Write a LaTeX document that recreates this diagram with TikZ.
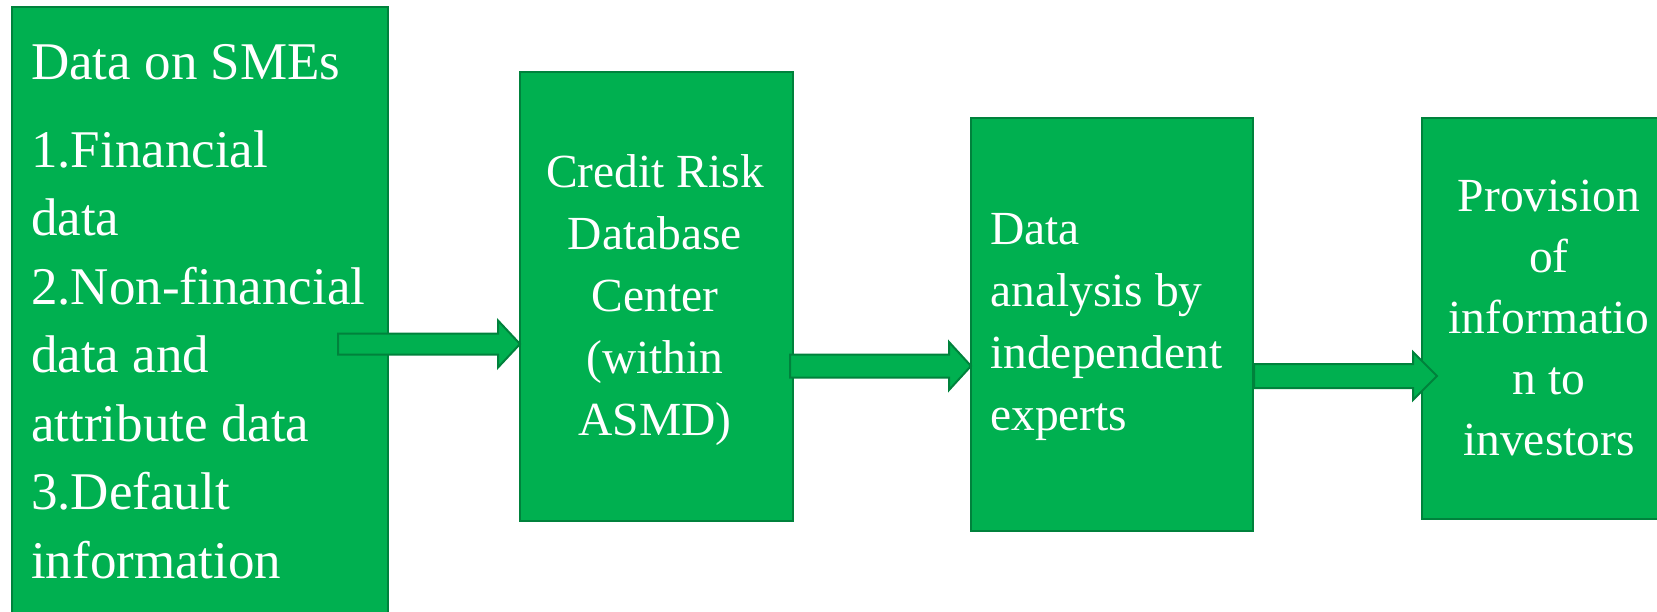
\documentclass[tikz,border=0pt]{standalone}
\usepackage{fontspec}
\setmainfont{Liberation Serif}
\usetikzlibrary{calc}
\definecolor{boxgreen}{RGB}{0,176,80}
\definecolor{edgegreen}{RGB}{0,130,60}
\tikzset{
  box/.style={draw=edgegreen, fill=boxgreen, line width=2pt, inner sep=0pt, anchor=north west},
  boxtext/.style={text=white, inner sep=0pt, font=\fontsize{47.5}{62}\selectfont},
  blockarrow/.style={draw=edgegreen, fill=boxgreen, line width=2pt, line join=miter}
}
\newcommand{\blockarr}[5]{% start, end, half shaft, half head, head length
  \draw[blockarrow] ($(#1)+(0,-#3)$) -- ($(#2)+(-#5,-#3)$) -- ($(#2)+(-#5,-#4)$) -- (#2)
    -- ($(#2)+(-#5,#4)$) -- ($(#2)+(-#5,#3)$) -- ($(#1)+(0,#3)$) -- cycle;}
\begin{document}
\begin{tikzpicture}[x=1pt,y=-1pt]
\clip (0,0) rectangle (1657,611);
\fill[white] (0,0) rectangle (1657,611);
% boxes
\node[box, minimum width=376pt, minimum height=640pt] (b1) at (11,6) {};
\node[box, minimum width=273pt, minimum height=449pt] (b2) at (519,71) {};
\node[box, minimum width=282pt, minimum height=413pt] (b3) at (970,117) {};
\node[box, minimum width=280pt, minimum height=401pt] (b4) at (1421,117) {};
% texts (anchored at the baseline of the last line)
\node[boxtext, anchor=base west, align=left, font=\fontsize{53}{68.5}\selectfont] (t1) at (31,578)
  {Data on SMEs\\[19.5pt]1.Financial\\data\\2.Non-financial\\data and\\attribute data\\3.Default\\information};
\node[boxtext, anchor=base, align=center] (t2) at (655,435)
  {Credit Risk\\Database\\Center\\(within\\ASMD)};
\node[boxtext, anchor=base west, align=left] (t3) at (990,430)
  {Data\\analysis by\\independent\\experts};
\node[boxtext, anchor=base, align=center, font=\fontsize{47.5}{61}\selectfont] (t4) at (1549,455)
  {Provision\\of\\informatio\\n to\\investors};
% arrows
\coordinate (a1s) at (338,344);
\coordinate (a1e) at (520,344);
\coordinate (a2s) at (790,366);
\coordinate (a2e) at (971,366);
\coordinate (a3s) at (1254,376);
\coordinate (a3e) at (1437,376);
\blockarr{a1s}{a1e}{10.5}{23.5}{22}
\blockarr{a2s}{a2e}{11.5}{24}{22}
\blockarr{a3s}{a3e}{12}{24}{24}
\end{tikzpicture}
\end{document}
